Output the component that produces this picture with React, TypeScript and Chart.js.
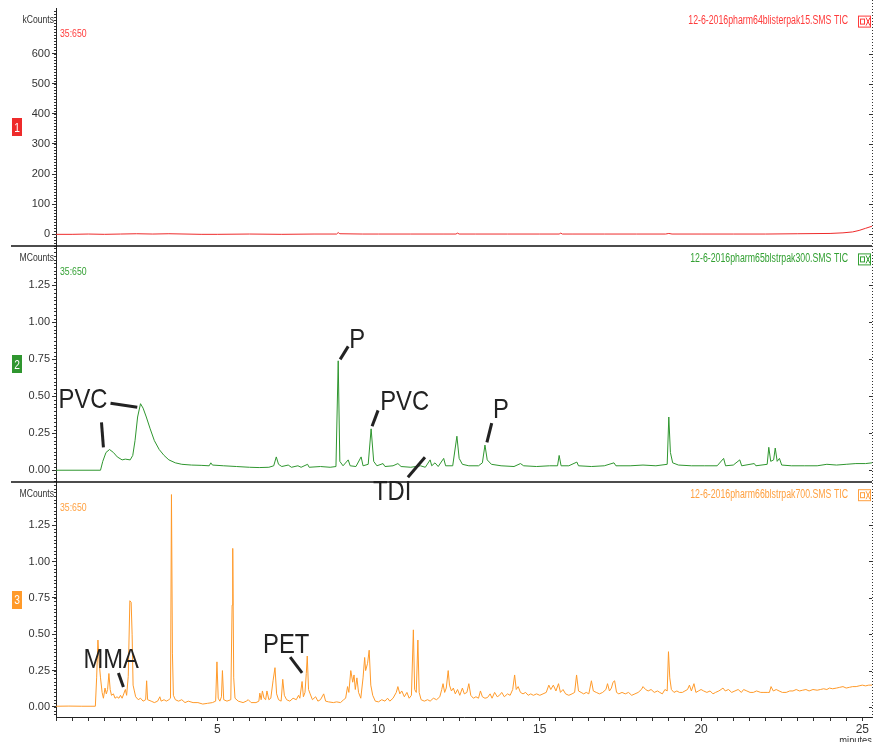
import React, { useEffect, useRef } from 'react';
import { Chart, registerables } from 'chart.js';

Chart.register(...registerables);

const TICK_FONT = '"Liberation Sans Narrow", "Arial Narrow", "Liberation Sans", Arial, sans-serif';
const TEXT_FONT = '"Liberation Sans", Arial, sans-serif';

// ---- Trace 1 (kCounts) ----
const redTimes = [0, 0.5, 1, 1.5, 2, 2.5, 3, 3.5, 4, 4.5,
  5, 6, 7, 8, 8.7, 8.75, 8.8, 9.5, 10, 11,
  12, 12.4, 12.45, 12.5, 13, 14, 15, 15.6, 15.65, 15.7,
  16, 17, 18, 18.9, 19.0, 19.1, 20, 21, 22, 23,
  24, 24.4, 24.7, 24.9, 25.1, 25.3];
const redValues = [0, 0, 1, 0, 1, 2, 1, 2, 1, 0,
  0, 1, 0, 1, 1, 6, 2, 1, 1, 1,
  1, 1, 4, 1, 1, 1, 1, 1, 4, 1,
  1, 1, 1, 1, 3, 1, 1, 1, 1, 2,
  3, 5, 8, 13, 20, 27];

// ---- Trace 2 (MCounts) ----
const greenTimes = [0, 1.38, 1.45, 1.55, 1.66, 1.78, 1.9, 2.05, 2.15, 2.3,
  2.38, 2.45, 2.53, 2.62, 2.7, 2.8, 2.92, 3.05, 3.2, 3.35,
  3.5, 3.7, 3.9, 4.2, 4.5, 4.75, 4.8, 4.85, 5.2, 5.6,
  6.0, 6.3, 6.6, 6.75, 6.83, 6.9, 7.0, 7.2, 7.3, 7.5,
  7.6, 7.8, 7.85, 8.2, 8.5, 8.68, 8.75, 8.8, 8.9, 9.06,
  9.12, 9.3, 9.46, 9.52, 9.68, 9.77, 9.85, 9.95, 10.14, 10.2,
  10.45, 10.6, 10.7, 11.0, 11.3, 11.45, 11.6, 11.65, 11.75, 11.85,
  12.02, 12.08, 12.3, 12.43, 12.5, 12.6, 12.8, 13.1, 13.22, 13.3,
  13.37, 13.5, 13.8, 14.2, 14.4, 14.5, 14.9, 15.3, 15.55, 15.6,
  15.66, 15.9, 16.15, 16.2, 16.6, 17.0, 17.3, 17.36, 17.8, 18.2,
  18.6, 18.95, 19.0, 19.05, 19.12, 19.3, 19.7, 20.1, 20.5, 20.7,
  20.76, 21.0, 21.2, 21.26, 21.65, 21.7, 22.05, 22.1, 22.16, 22.25,
  22.3, 22.36, 22.43, 22.5, 22.8, 23.2, 23.6, 23.9, 24.2, 24.5,
  24.8, 25.1, 25.3];
const greenValues = [0, 0, 0.06, 0.12, 0.14, 0.12, 0.09, 0.07, 0.075, 0.07,
  0.1, 0.2, 0.36, 0.45, 0.42, 0.36, 0.28, 0.2, 0.14, 0.1,
  0.07, 0.05, 0.04, 0.035, 0.033, 0.03, 0.05, 0.035, 0.03, 0.025,
  0.02, 0.018, 0.02, 0.03, 0.09, 0.04, 0.025, 0.035, 0.02, 0.03,
  0.02, 0.04, 0.02, 0.025, 0.02, 0.025, 0.74, 0.06, 0.03, 0.07,
  0.03, 0.025, 0.09, 0.03, 0.04, 0.28, 0.06, 0.03, 0.045, 0.025,
  0.03, 0.045, 0.025, 0.02, 0.03, 0.02, 0.07, 0.03, 0.05, 0.025,
  0.08, 0.03, 0.03, 0.23, 0.08, 0.04, 0.03, 0.03, 0.05, 0.17,
  0.07, 0.04, 0.03, 0.025, 0.045, 0.03, 0.025, 0.03, 0.03, 0.1,
  0.03, 0.03, 0.055, 0.03, 0.025, 0.03, 0.05, 0.03, 0.03, 0.035,
  0.03, 0.04, 0.36, 0.12, 0.05, 0.035, 0.03, 0.03, 0.03, 0.08,
  0.03, 0.035, 0.07, 0.03, 0.045, 0.03, 0.04, 0.155, 0.06, 0.07,
  0.15, 0.06, 0.08, 0.035, 0.03, 0.03, 0.03, 0.04, 0.035, 0.04,
  0.045, 0.045, 0.05];

// ---- Trace 3 (MCounts) ----
const orangeTimes = [0, 0.4, 0.8, 1.22, 1.26, 1.3, 1.34, 1.38, 1.43, 1.47,
  1.52, 1.56, 1.6, 1.64, 1.68, 1.72, 1.78, 1.83, 1.89, 1.95,
  2.0, 2.05, 2.1, 2.15, 2.19, 2.24, 2.29, 2.33, 2.36, 2.39,
  2.43, 2.47, 2.55, 2.62, 2.7, 2.78, 2.81, 2.84, 2.95, 3.05,
  3.15, 3.22, 3.26, 3.35, 3.42, 3.5, 3.55, 3.58, 3.61, 3.64,
  3.7, 3.8, 3.9, 4.0, 4.1, 4.25, 4.4, 4.55, 4.7, 4.85,
  4.95, 4.99, 5.03, 5.08, 5.13, 5.16, 5.2, 5.3, 5.42, 5.46,
  5.48, 5.51, 5.55, 5.65, 5.8, 5.9, 5.96, 6.05, 6.2, 6.29,
  6.32, 6.36, 6.4, 6.45, 6.5, 6.54, 6.6, 6.66, 6.73, 6.79,
  6.84, 6.9, 6.98, 7.03, 7.08, 7.15, 7.25, 7.35, 7.45, 7.52,
  7.56, 7.63, 7.67, 7.72, 7.76, 7.79, 7.83, 7.88, 7.95, 8.05,
  8.12, 8.2, 8.3, 8.36, 8.45, 8.6, 8.7, 8.82, 8.92, 8.98,
  9.04, 9.08, 9.14, 9.2, 9.24, 9.28, 9.33, 9.38, 9.45, 9.52,
  9.57, 9.6, 9.66, 9.71, 9.76, 9.82, 9.9, 10.0, 10.1, 10.2,
  10.28, 10.35, 10.45, 10.55, 10.6, 10.66, 10.72, 10.8, 10.88, 10.95,
  11.02, 11.08, 11.12, 11.17, 11.22, 11.26, 11.32, 11.42, 11.52, 11.6,
  11.7, 11.8, 11.9, 11.96, 12.0, 12.05, 12.1, 12.16, 12.2, 12.26,
  12.32, 12.38, 12.45, 12.52, 12.6, 12.66, 12.74, 12.8, 12.86, 12.94,
  13.02, 13.1, 13.16, 13.22, 13.3, 13.38, 13.46, 13.52, 13.6, 13.68,
  13.75, 13.82, 13.9, 14.0, 14.08, 14.16, 14.22, 14.27, 14.33, 14.4,
  14.48, 14.56, 14.64, 14.72, 14.8, 14.9, 15.0, 15.1, 15.2, 15.28,
  15.34, 15.42, 15.5, 15.58, 15.64, 15.72, 15.8, 15.9, 16.0, 16.08,
  16.14, 16.2, 16.28, 16.36, 16.44, 16.52, 16.6, 16.66, 16.75, 16.85,
  16.95, 17.05, 17.1, 17.16, 17.22, 17.27, 17.32, 17.38, 17.45, 17.55,
  17.65, 17.75, 17.85, 17.95, 18.05, 18.15, 18.2, 18.28, 18.36, 18.45,
  18.55, 18.65, 18.72, 18.8, 18.88, 18.95, 18.99, 19.03, 19.08, 19.16,
  19.25, 19.33, 19.42, 19.5, 19.58, 19.64, 19.7, 19.78, 19.84, 19.92,
  20.0, 20.08, 20.18, 20.28, 20.37, 20.45, 20.55, 20.62, 20.68, 20.75,
  20.85, 20.95, 21.05, 21.15, 21.25, 21.32, 21.42, 21.52, 21.62, 21.72,
  21.85, 21.95, 22.05, 22.12, 22.17, 22.24, 22.33, 22.42, 22.52, 22.64,
  22.75, 22.85, 22.95, 23.05, 23.15, 23.25, 23.35, 23.47, 23.6, 23.7,
  23.8, 23.9, 23.98, 24.08, 24.2, 24.3, 24.4, 24.5, 24.6, 24.7,
  24.81, 24.9, 25.0, 25.1, 25.2, 25.3];
const orangeValues = [0.005, 0.006, 0.005, 0.005, 0.2, 0.46, 0.3, 0.2, 0.1, 0.06,
  0.13, 0.09, 0.12, 0.23, 0.12, 0.08, 0.09, 0.06, 0.07, 0.06,
  0.08, 0.06, 0.09, 0.12, 0.08, 0.21, 0.73, 0.72, 0.5, 0.15,
  0.11, 0.07, 0.05, 0.06, 0.04, 0.05, 0.18, 0.05, 0.04, 0.03,
  0.04, 0.07, 0.04, 0.05, 0.04, 0.05, 0.06, 1.46, 0.37, 0.08,
  0.05, 0.04, 0.05, 0.03, 0.04, 0.03, 0.03, 0.02, 0.025, 0.03,
  0.04, 0.31, 0.06, 0.04, 0.07, 0.25, 0.05, 0.04, 0.05, 0.7,
  1.09, 0.2, 0.06, 0.04, 0.03, 0.04, 0.05, 0.03, 0.03, 0.04,
  0.095, 0.05, 0.11, 0.06, 0.05, 0.11, 0.05, 0.06, 0.18, 0.27,
  0.09, 0.05, 0.04, 0.19, 0.08, 0.05, 0.04, 0.06, 0.05, 0.08,
  0.06, 0.175, 0.07, 0.1, 0.23, 0.35, 0.12, 0.09, 0.05, 0.07,
  0.04, 0.05, 0.09, 0.04, 0.035, 0.03, 0.035, 0.03, 0.05, 0.06,
  0.14, 0.1, 0.25, 0.17, 0.22, 0.12, 0.2, 0.1, 0.06, 0.2,
  0.34, 0.25, 0.3, 0.39, 0.15, 0.08, 0.04, 0.035, 0.05, 0.04,
  0.06, 0.04, 0.06, 0.1, 0.14, 0.09, 0.11, 0.07, 0.1, 0.06,
  0.08, 0.53, 0.12, 0.1, 0.46, 0.1, 0.05, 0.04, 0.05, 0.04,
  0.06, 0.05, 0.07, 0.12, 0.16, 0.1, 0.13, 0.25, 0.15, 0.11,
  0.13, 0.09, 0.12, 0.08, 0.13, 0.09, 0.1, 0.16, 0.08, 0.06,
  0.07, 0.06, 0.11, 0.07, 0.06, 0.065, 0.09, 0.06, 0.1, 0.07,
  0.08, 0.1, 0.07, 0.09, 0.08, 0.12, 0.22, 0.12, 0.14, 0.1,
  0.09, 0.1, 0.08, 0.09, 0.08, 0.09, 0.08, 0.09, 0.1, 0.15,
  0.12, 0.15, 0.11, 0.16, 0.1, 0.12, 0.09, 0.08, 0.09, 0.1,
  0.22, 0.11, 0.1, 0.09, 0.1, 0.09, 0.18, 0.11, 0.1, 0.09,
  0.1, 0.12, 0.16, 0.11, 0.13, 0.17, 0.18, 0.1, 0.09, 0.1,
  0.09, 0.1, 0.08, 0.09, 0.1, 0.12, 0.14, 0.12, 0.11, 0.12,
  0.1, 0.11, 0.1, 0.09, 0.12, 0.11, 0.38, 0.2, 0.12, 0.1,
  0.11, 0.1, 0.1, 0.11, 0.12, 0.15, 0.11, 0.16, 0.1, 0.11,
  0.12, 0.11, 0.1, 0.11, 0.09, 0.1, 0.11, 0.12, 0.13, 0.11,
  0.12, 0.1, 0.11, 0.12, 0.1, 0.12, 0.11, 0.1, 0.1, 0.11,
  0.1, 0.1, 0.1, 0.1, 0.14, 0.11, 0.12, 0.11, 0.1, 0.1,
  0.11, 0.11, 0.12, 0.11, 0.115, 0.12, 0.11, 0.12, 0.115, 0.12,
  0.125, 0.12, 0.13, 0.125, 0.13, 0.135, 0.14, 0.13, 0.135, 0.14,
  0.14, 0.145, 0.15, 0.145, 0.15, 0.15];

// ---- Axes / labels ----
const kTicks = [0, 100, 200, 300, 400, 500, 600];
const mTicks = [0, 0.25, 0.5, 0.75, 1.0, 1.25];
const xLabelTicks = [5, 10, 15, 20, 25];
const panelRanges = [[-40, 749], [-0.081, 1.514], [-0.069, 1.545]];
const minorSteps = [10, 0.025, 0.025];
const panelTitles = [
  '12-6-2016pharm64blisterpak15.SMS TIC',
  '12-6-2016pharm65blstrpak300.SMS TIC',
  '12-6-2016pharm66blstrpak700.SMS TIC',
];
const panelUnits = ['kCounts', 'MCounts', 'MCounts'];
const panelIons = ['35:650', '35:650', '35:650'];
const panelNumbers = ['1', '2', '3'];

// ---- Annotations (data coordinates) ----
const annotationLabels = ['PVC', 'P', 'PVC', 'P', 'TDI', 'MMA', 'PET'];
const annotationPanel = [1, 1, 1, 1, 1, 2, 2];
const annotationTime = [0.08, 9.09, 10.05, 13.55, 9.83, 0.85, 6.42];
const annotationLevel = [0.419, 0.824, 0.405, 0.351, -0.203, 0.268, 0.371];
const leaderPanel = [1, 1, 1, 1, 1, 1, 2, 2];
const leaderFrom = [[1.69, 0.453], [1.41, 0.324], [8.81, 0.75], [9.8, 0.297], [13.36, 0.189], [10.91, -0.047], [1.935, 0.234], [7.26, 0.343]];
const leaderTo = [[2.52, 0.426], [1.47, 0.155], [9.06, 0.838], [9.985, 0.405], [13.51, 0.318], [11.44, 0.088], [2.09, 0.137], [7.63, 0.234]];

const COLORS = ['#ee2b2b', '#2f962f', '#ff9a2a'];
const TEXT_COLORS = ['#ff3b3b', '#33a033', '#ffa040'];
const PANEL_WEIGHTS = [238, 236, 235];

function zip(ts: number[], vs: number[]) {
  const n = Math.min(ts.length, vs.length);
  const out: { x: number; y: number }[] = [];
  for (let i = 0; i < n; i++) out.push({ x: ts[i], y: vs[i] });
  return out;
}

function drawText(ctx: CanvasRenderingContext2D, text: string, x: number, y: number, size: number, color: string,
  align: CanvasTextAlign, sx: number, baseline: CanvasTextBaseline) {
  ctx.save();
  ctx.translate(x, y);
  ctx.scale(sx, 1);
  ctx.font = `${size}px ${TEXT_FONT}`;
  ctx.fillStyle = color;
  ctx.textAlign = align;
  ctx.textBaseline = baseline;
  ctx.fillText(text, 0, 0);
  ctx.restore();
}

const chromePlugin = {
  id: 'chrome',
  afterDraw(chart: any) {
    const ctx: CanvasRenderingContext2D = chart.ctx;
    const ca = chart.chartArea;
    const ys = [chart.scales.y1, chart.scales.y2, chart.scales.y3];
    const xs = chart.scales.x;
    ctx.save();

    // minor ticks on left axis
    ctx.strokeStyle = '#333';
    ctx.lineWidth = 1;
    ys.forEach((s: any, i: number) => {
      const step = minorSteps[i];
      const n0 = Math.ceil(s.min / step);
      const n1 = Math.floor(s.max / step);
      ctx.beginPath();
      for (let n = n0; n <= n1; n++) {
        const y = Math.round(s.getPixelForValue(n * step)) + 0.5;
        ctx.moveTo(ca.left - 2, y);
        ctx.lineTo(ca.left, y);
      }
      ctx.stroke();
    });

    // right border dotted + ticks
    ctx.setLineDash([1, 2]);
    ctx.beginPath();
    ctx.moveTo(ca.right + 0.5, 0);
    ctx.lineTo(ca.right + 0.5, ca.bottom);
    ctx.stroke();
    ctx.setLineDash([]);
    ctx.beginPath();
    ys.forEach((s: any, i: number) => {
      (i === 0 ? kTicks : mTicks).forEach((v) => {
        const y = Math.round(s.getPixelForValue(v)) + 0.5;
        ctx.moveTo(ca.right - 3, y);
        ctx.lineTo(ca.right, y);
      });
    });
    ctx.stroke();

    // panel separators
    ctx.strokeStyle = '#111';
    ctx.lineWidth = 1.5;
    for (let i = 1; i < 3; i++) {
      const y = Math.round(ys[i].top);
      ctx.beginPath();
      ctx.moveTo(11, y);
      ctx.lineTo(ca.right, y);
      ctx.stroke();
    }

    // panel texts
    ys.forEach((s: any, i: number) => {
      drawText(ctx, panelUnits[i], ca.left - 2, s.top + 12, 10, '#333', 'right', 0.86, 'middle');
      drawText(ctx, panelIons[i], ca.left + 4, s.top + 26, 10.5, TEXT_COLORS[i], 'left', 0.83, 'middle');
      drawText(ctx, panelTitles[i], ca.right - 24, s.top + 12, 12, TEXT_COLORS[i], 'right', 0.73, 'middle');
      // icon box
      const bx = ca.right - 14;
      const by = s.top + 7;
      ctx.strokeStyle = TEXT_COLORS[i];
      ctx.lineWidth = 1;
      ctx.strokeRect(bx + 0.5, by + 0.5, 12, 11);
      ctx.strokeRect(bx + 2.5, by + 3.5, 4, 5);
      ctx.beginPath();
      ctx.moveTo(bx + 8, by + 2);
      ctx.lineTo(bx + 12, by + 10);
      ctx.moveTo(bx + 12, by + 2);
      ctx.lineTo(bx + 8, by + 10);
      ctx.stroke();
      // panel number box
      const cy = (s.top + s.bottom) / 2;
      ctx.fillStyle = COLORS[i];
      ctx.fillRect(12, Math.round(cy - 9), 10, 18);
      drawText(ctx, panelNumbers[i], 17, cy + 1, 12, '#fff', 'center', 0.85, 'middle');
    });

    drawText(ctx, 'minutes', ca.right, 735, 11, '#333', 'right', 0.85, 'top');

    // annotations
    ctx.strokeStyle = '#222';
    ctx.lineWidth = 3;
    for (let i = 0; i < leaderFrom.length; i++) {
      const s = ys[leaderPanel[i]];
      ctx.beginPath();
      ctx.moveTo(xs.getPixelForValue(leaderFrom[i][0]), s.getPixelForValue(leaderFrom[i][1]));
      ctx.lineTo(xs.getPixelForValue(leaderTo[i][0]), s.getPixelForValue(leaderTo[i][1]));
      ctx.stroke();
    }
    for (let i = 0; i < annotationLabels.length; i++) {
      const s = ys[annotationPanel[i]];
      drawText(ctx, annotationLabels[i], xs.getPixelForValue(annotationTime[i]), s.getPixelForValue(annotationLevel[i]),
        28, '#222', 'left', 0.85, 'alphabetic');
    }
    ctx.restore();
  },
};

function yScale(i: number) {
  return {
    type: 'linear',
    position: 'left',
    stack: 'panels',
    stackWeight: PANEL_WEIGHTS[i],
    weight: 3 - i,
    min: panelRanges[i][0],
    max: panelRanges[i][1],
    afterFit: (s: any) => { s.width = 56; },
    afterBuildTicks: (s: any) => { s.ticks = (i === 0 ? kTicks : mTicks).map((v) => ({ value: v })); },
    ticks: {
      font: { family: TICK_FONT, size: 11 },
      color: '#333',
      padding: 2,
      callback: (v: any) => (i === 0 ? String(v) : Number(v).toFixed(2)),
    },
    grid: { drawOnChartArea: false, drawTicks: true, tickLength: 4, color: '#333' },
    border: { display: true, color: '#222', width: 1 },
  };
}

export default function App() {
  const ref = useRef<HTMLCanvasElement>(null);
  useEffect(() => {
    if (!ref.current) return;
    const chart = new Chart(ref.current, {
      type: 'line',
      data: {
        datasets: [
          { data: zip(redTimes, redValues), yAxisID: 'y1', borderColor: COLORS[0], borderWidth: 1, pointRadius: 0, tension: 0, fill: false },
          { data: zip(greenTimes, greenValues), yAxisID: 'y2', borderColor: COLORS[1], borderWidth: 1, pointRadius: 0, tension: 0, fill: false },
          { data: zip(orangeTimes, orangeValues), yAxisID: 'y3', borderColor: COLORS[2], borderWidth: 1, pointRadius: 0, tension: 0, fill: false },
        ],
      },
      options: {
        animation: false,
        responsive: false,
        devicePixelRatio: 1,
        layout: { padding: { top: 8, right: 9, left: 0, bottom: 0 } },
        plugins: { legend: { display: false }, tooltip: { enabled: false }, title: { display: false } },
        scales: {
          x: {
            type: 'linear',
            position: 'bottom',
            min: 0,
            max: 25.3,
            afterFit: (s: any) => { s.height = 25; },
            ticks: {
              stepSize: 0.5,
              includeBounds: false,
              autoSkip: false,
              maxRotation: 0,
              padding: 1,
              color: '#333',
              font: { family: TICK_FONT, size: 12 },
              callback: (v: any) => (xLabelTicks.includes(Number(v)) ? String(v) : ''),
            },
            grid: { drawOnChartArea: false, drawTicks: true, tickLength: 4, color: '#333' },
            border: { display: true, color: '#222' },
          },
          y1: yScale(0),
          y2: yScale(1),
          y3: yScale(2),
        } as any,
      },
      plugins: [chromePlugin],
    } as any);
    return () => chart.destroy();
  }, []);
  return (
    <div style={{ position: 'absolute', left: 0, top: 0, width: 881, height: 742, background: '#fff' }}>
      <canvas ref={ref} width={881} height={742} style={{ display: 'block' }} />
    </div>
  );
}
